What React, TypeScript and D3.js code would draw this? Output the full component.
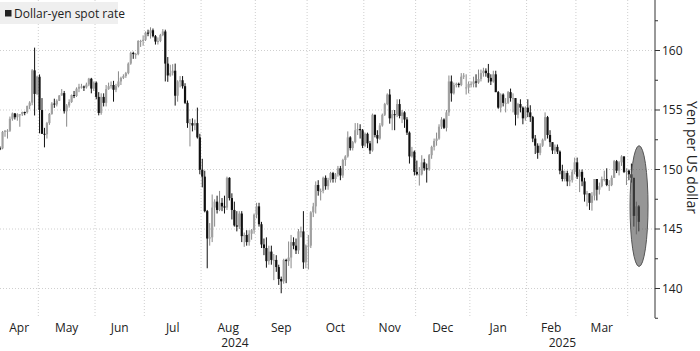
import React, { useEffect } from 'react';
import * as d3 from 'd3';

// ---------- data ----------
const startDate = '2024-04-09';
const endDate = '2025-04-07';

const opens = [
151.78,151.77,153.16,153.25,153.26,154.26,154.71,154.39,154.64,154.64,154.83,154.82,155.34,155.62,158.33,156.35,
157.80,155.00,153.00,152.96,153.90,154.67,155.54,155.47,155.78,156.22,156.42,154.90,155.38,155.67,156.26,156.18,156.79,156.95,156.97,156.90,157.14,157.63,156.80,
157.30,156.10,154.75,156.10,155.60,156.75,157.00,157.10,156.70,157.00,157.40,157.70,157.85,158.10,158.90,159.80,159.70,159.70,160.80,160.80,
160.90,161.50,161.45,161.70,161.20,160.75,160.80,161.30,161.60,158.90,157.90,158.10,158.30,156.20,157.40,157.50,157.00,155.60,153.90,153.90,153.70,153.90,152.70,
149.98,149.40,146.50,144.20,144.30,146.80,147.30,146.60,147.20,146.90,146.80,149.30,147.60,146.60,145.30,145.20,146.30,144.40,144.50,143.90,144.60,144.90,
146.20,146.90,145.40,143.70,143.40,142.30,143.10,142.40,142.40,141.80,140.80,140.60,142.40,142.30,142.60,143.90,143.60,143.20,144.80,144.80,142.20,
143.60,143.60,146.40,146.90,148.70,148.20,148.20,149.30,148.60,149.10,149.70,149.20,149.60,150.10,149.50,150.80,151.10,152.70,151.80,152.30,153.30,153.40,153.30,
152.00,153.00,152.20,151.60,154.60,152.90,152.60,153.70,154.60,155.50,156.30,154.30,154.65,154.60,155.50,154.50,154.80,154.20,153.10,151.10,151.50,
149.80,149.60,149.60,150.60,150.10,150.00,151.20,151.90,152.40,152.60,153.60,154.20,153.50,154.80,157.40,156.40,157.10,157.20,157.10,157.80,156.90,156.90,
157.20,157.20,157.40,157.30,157.60,158.10,158.30,158.10,157.70,157.40,158.00,156.50,155.20,156.30,155.60,155.60,156.50,156.00,156.00,154.60,155.50,155.20,154.30,
155.20,154.80,154.40,152.60,152.00,151.40,152.00,152.50,154.40,152.90,152.30,151.60,151.90,151.50,149.90,149.20,149.70,149.00,149.10,149.80,
150.60,149.40,149.80,149.00,147.90,148.00,147.20,147.80,149.20,148.30,148.60,149.20,149.20,148.70,148.70,149.30,150.70,149.90,150.60,151.10,149.80,
149.90,149.60,149.30,146.10,146.90
];
const highs = [
151.94,153.24,153.32,153.39,154.45,154.79,154.75,154.73,154.66,154.86,154.87,155.37,155.74,158.44,160.24,157.88,
157.99,156.00,153.50,154.00,154.75,155.66,155.95,155.90,156.25,156.76,156.60,155.50,155.90,156.30,156.60,156.90,157.20,157.20,157.05,157.30,157.70,157.70,157.40,
157.40,156.50,156.40,156.40,157.10,157.30,157.40,157.45,157.20,158.25,157.80,158.00,158.20,159.00,159.90,159.90,159.80,160.87,160.90,161.27,
161.60,161.75,161.95,161.85,161.30,161.10,161.40,161.80,161.75,159.45,158.80,158.85,158.90,157.50,157.85,157.85,157.25,155.80,154.25,154.30,154.20,155.20,153.00,
150.90,149.90,146.60,145.50,147.90,147.50,147.80,148.20,147.60,147.80,149.40,149.35,148.00,147.30,146.50,146.50,146.50,144.70,144.90,144.90,145.00,146.30,
147.20,147.20,145.60,144.20,144.30,143.60,143.60,142.90,142.80,142.00,141.00,142.50,142.50,143.95,144.50,144.30,144.20,145.00,145.20,146.50,143.70,
144.50,146.50,147.20,149.00,149.10,148.40,149.40,149.50,149.30,149.80,149.80,149.70,150.30,150.30,150.90,151.20,153.20,152.80,152.40,153.90,153.90,153.80,153.40,
153.10,153.10,152.40,154.70,154.60,153.30,153.90,154.70,155.60,156.40,156.75,155.00,155.00,155.90,155.90,155.00,154.90,154.40,153.20,151.90,151.60,
150.75,150.20,151.20,150.90,150.50,151.30,152.00,152.60,153.10,153.80,154.40,154.30,155.00,157.90,157.90,157.30,157.30,157.30,158.10,158.10,158.00,157.40,
157.40,157.80,158.00,158.40,158.40,158.55,158.50,158.87,158.00,158.30,158.30,156.60,156.40,156.40,156.00,156.60,156.80,156.40,156.00,155.60,155.90,155.30,155.30,
155.90,155.40,154.50,152.90,152.20,152.20,152.60,154.80,154.50,153.30,152.30,152.10,152.10,151.60,150.40,149.90,149.90,149.50,150.00,151.00,
151.00,150.00,150.00,149.30,148.20,148.00,148.10,149.20,149.20,148.90,149.40,149.90,150.10,149.10,149.50,150.80,150.80,150.70,151.20,151.10,150.10,
150.00,150.50,149.30,147.30,147.00
];
const lows = [
151.63,151.70,152.75,152.60,153.16,154.10,154.20,154.10,153.59,154.50,154.56,154.70,155.07,155.40,154.54,156.25,
153.04,152.99,151.86,152.60,153.75,154.60,155.18,155.30,155.75,156.20,154.70,153.60,155.20,155.60,156.00,156.10,156.50,156.80,156.60,156.80,157.00,156.40,156.60,
155.90,154.55,154.60,155.30,155.30,156.70,156.80,155.70,156.50,156.90,157.10,157.60,157.70,158.00,158.80,159.30,159.30,159.60,160.30,160.40,
160.80,161.20,161.00,161.10,160.50,160.50,160.70,161.20,157.40,157.37,157.80,157.90,155.37,155.70,156.90,156.80,155.50,153.50,151.94,153.20,153.30,152.60,149.60,
148.50,146.40,141.70,143.60,143.90,145.20,146.30,146.50,146.50,146.30,146.60,147.40,145.80,145.20,144.80,145.00,143.90,143.50,143.60,143.60,144.10,144.60,
145.90,145.20,143.40,142.80,141.75,142.00,142.00,140.70,141.40,140.30,139.60,140.40,140.45,141.90,141.70,143.30,142.90,142.90,144.30,141.65,141.70,
141.60,143.40,146.00,146.30,147.80,147.40,148.00,148.30,148.30,148.90,148.90,148.90,149.40,149.10,149.30,150.30,151.00,151.60,151.60,152.20,152.90,152.60,151.80,
151.90,151.80,151.30,151.50,152.70,152.20,152.50,153.60,154.50,155.40,153.85,153.30,153.30,154.40,154.30,153.90,153.50,152.90,150.50,151.00,149.50,
149.50,148.65,149.50,149.90,148.90,149.90,150.90,151.60,152.00,152.50,153.40,153.40,153.20,154.50,155.70,156.30,156.90,156.90,157.00,157.60,156.30,156.40,
156.90,156.90,156.90,157.20,157.40,157.80,157.80,157.30,157.10,157.30,156.50,155.10,154.80,155.30,154.80,155.50,155.70,154.80,153.70,154.30,154.80,153.80,154.10,
154.40,154.00,152.30,151.30,150.90,151.20,151.90,152.40,152.60,151.90,151.30,151.30,151.30,149.60,149.00,149.00,148.60,148.60,148.90,149.60,
149.20,148.10,148.60,147.30,146.90,146.60,146.54,147.40,147.40,147.90,148.50,149.00,148.60,148.20,148.60,149.30,149.70,149.50,150.30,149.70,148.70,
149.10,148.90,145.20,144.55,144.80
];
const closes = [
151.77,153.16,153.25,153.26,154.26,154.71,154.39,154.64,154.64,154.83,154.82,155.34,155.62,158.33,156.35,157.80,
155.00,153.00,152.96,153.90,154.67,155.54,155.47,155.78,156.22,156.42,154.90,155.38,155.67,156.26,156.18,156.79,156.95,156.97,156.90,157.14,157.63,156.80,157.30,
156.10,154.75,156.10,155.60,156.75,157.00,157.10,156.70,157.00,157.40,157.70,157.85,158.10,158.90,159.80,159.70,159.70,160.80,160.80,160.90,
161.50,161.45,161.70,161.20,160.75,160.80,161.30,161.60,158.90,157.90,158.10,158.30,156.20,157.40,157.50,157.00,155.60,153.90,153.90,153.70,153.90,152.70,149.98,
149.40,146.50,144.20,144.30,146.80,147.30,146.60,147.20,146.90,146.80,149.30,147.60,146.60,145.30,145.20,146.30,144.40,144.50,143.90,144.60,144.90,146.20,
146.90,145.40,143.70,143.40,142.30,143.10,142.40,142.40,141.80,140.80,140.60,142.40,142.30,142.60,143.90,143.60,143.20,144.80,144.80,142.20,143.60,
143.60,146.40,146.90,148.70,148.20,148.20,149.30,148.60,149.10,149.70,149.20,149.60,150.10,149.50,150.80,151.10,152.70,151.80,152.30,153.30,153.40,153.30,152.00,
153.00,152.20,151.60,154.60,152.90,152.60,153.70,154.60,155.50,156.30,154.30,154.65,154.60,155.50,154.50,154.80,154.20,153.10,151.10,151.50,149.80,
149.60,149.60,150.60,150.10,150.00,151.20,151.90,152.40,152.60,153.60,154.20,153.50,154.80,157.40,156.40,157.10,157.20,157.10,157.80,157.90,156.90,157.20,
157.20,157.40,157.30,157.60,158.10,158.30,158.10,157.70,157.40,158.00,156.50,155.20,156.30,155.60,155.60,156.50,156.00,156.00,154.60,155.50,155.20,154.30,155.20,
154.80,154.40,152.60,152.00,151.40,152.00,152.50,154.40,152.90,152.30,151.60,151.90,151.50,149.90,149.20,149.70,149.00,149.10,149.80,150.60,
149.40,149.80,149.00,147.90,148.00,147.20,147.80,149.20,148.30,148.60,149.20,149.20,148.70,148.70,149.30,150.70,149.90,150.60,151.10,149.80,149.90,
149.60,149.30,146.10,146.90,145.60
];

const yMajorTicks = [140, 145, 150, 155, 160];
const yMinorTicks = [137.5, 142.5, 147.5, 152.5, 157.5, 162.5];
const monthLabels = ['Apr', 'May', 'Jun', 'Jul', 'Aug', 'Sep', 'Oct', 'Nov', 'Dec', 'Jan', 'Feb', 'Mar'];
const gridMonthKeys = ['2024-05', '2024-06', '2024-07', '2024-08', '2024-09', '2024-10', '2024-11', '2024-12', '2025-01', '2025-02', '2025-03', '2025-04'];
const yearLabels = ['2024', '2025'];
const yearStartKeys = ['2024-04', '2025-01'];
const legendLabel = 'Dollar-yen spot rate';
const axisTitle = 'Yen per US dollar';
const highlightFromDate = '2025-04-01';

// ---------- layout ----------
const W = 700;
const H = 351;
const plotRight = 655;
const plotBottom = 318;
const FONT = "'Open Sans', 'Noto Sans', sans-serif";

export default function App() {
  useEffect(() => {
    document.body.style.margin = '0';
  }, []);

  const parse = d3.timeParse('%Y-%m-%d');
  const fmtMonth = d3.timeFormat('%Y-%m');
  const fmtDay = d3.timeFormat('%Y-%m-%d');
  const days = d3
    .timeDay.range(parse(startDate)!, d3.timeDay.offset(parse(endDate)!, 1))
    .filter((d) => d.getDay() !== 0 && d.getDay() !== 6);

  const firstIndexOfMonth = (key: string) => days.findIndex((d) => fmtMonth(d) === key);

  const iMay = firstIndexOfMonth('2024-05');
  const iApr25 = firstIndexOfMonth('2025-04');
  const x = d3.scaleLinear().domain([iMay - 0.5, iApr25 - 0.5]).range([38.3, 627.7]);
  const y = d3.scaleLinear().domain([140, 160]).range([288.5, 50.5]);

  const boundaries = gridMonthKeys.map((k) => x(firstIndexOfMonth(k) - 0.5));
  const edges = [0, ...boundaries];
  const monthPos = monthLabels.map((_, i) => (edges[i] + edges[i + 1]) / 2);

  const yearEdges = yearStartKeys.map((k) => {
    const idx = firstIndexOfMonth(k);
    return idx <= 0 ? 0 : x(idx - 0.5);
  });
  yearEdges.push(plotRight);
  const yearPos = yearLabels.map((_, i) => (yearEdges[i] + yearEdges[i + 1]) / 2);

  // highlight ellipse around the last days
  const hiIdx = days.findIndex((d) => fmtDay(d) === highlightFromDate);
  const hiLast = days.length - 1;
  const hiCx = x((hiIdx + hiLast) / 2 + 2.1);
  const hiTop = y(d3.max(highs.slice(hiIdx))! + 1.5);
  const hiBottom = y(d3.min(lows.slice(hiIdx))! - 2.7);

  const bodyW = 2.2;

  return (
    <svg
      width={W}
      height={H}
      viewBox={`0 0 ${W} ${H}`}
      style={{ position: 'absolute', left: 0, top: 0, background: '#fff', fontFamily: FONT }}
    >
      <defs>
        <clipPath id="plotClip">
          <rect x={0} y={0} width={plotRight} height={plotBottom} />
        </clipPath>
      </defs>
      <rect x={0} y={0} width={W} height={H} fill="#fff" />

      {/* horizontal grid */}
      {yMajorTicks.map((v) => (
        <line
          key={'hg' + v}
          x1={0}
          x2={plotRight}
          y1={y(v)}
          y2={y(v)}
          stroke="#cfcfcf"
          strokeWidth={1}
          strokeDasharray="1,2"
        />
      ))}
      {/* vertical grid */}
      {boundaries.map((bx, i) => (
        <line
          key={'vg' + i}
          x1={bx}
          x2={bx}
          y1={0}
          y2={plotBottom}
          stroke="#cfcfcf"
          strokeWidth={1}
          strokeDasharray="1,2"
        />
      ))}

      {/* candles */}
      <g clipPath="url(#plotClip)">
        {days.map((d, i) => {
          const o = opens[i];
          const c = closes[i];
          const up = c >= o;
          const cx = x(i);
          const top = y(Math.max(o, c));
          const bot = y(Math.min(o, c));
          const wick = up ? '#888' : '#111';
          return (
            <g key={i}>
              <line x1={cx} x2={cx} y1={y(highs[i])} y2={y(lows[i])} stroke={wick} strokeWidth={1} />
              <rect
                x={cx - bodyW / 2}
                y={top}
                width={bodyW}
                height={Math.max(1, bot - top)}
                fill={up ? '#a0a0a0' : '#111'}
              />
            </g>
          );
        })}
      </g>

      {/* highlight ellipse */}
      <ellipse
        cx={hiCx}
        cy={(hiTop + hiBottom) / 2}
        rx={9}
        ry={(hiBottom - hiTop) / 2}
        fill="rgba(80,80,80,0.6)"
        stroke="#555"
        strokeWidth={1}
      />

      {/* y axis */}
      <line x1={plotRight} x2={plotRight} y1={0} y2={plotBottom} stroke="#333" strokeWidth={1} />
      {yMinorTicks.map((v) => (
        <line key={'mt' + v} x1={plotRight} x2={plotRight + 3} y1={y(v)} y2={y(v)} stroke="#333" strokeWidth={1} />
      ))}
      {yMajorTicks.map((v) => (
        <g key={'yt' + v}>
          <line x1={plotRight} x2={plotRight + 5} y1={y(v)} y2={y(v)} stroke="#333" strokeWidth={1} />
          <text x={plotRight + 7} y={y(v)} dy="0.35em" fontSize={12} fill="#222">
            {v}
          </text>
        </g>
      ))}
      <text
        transform={`translate(686.5, ${(y(155) + y(145)) / 2 - 12}) rotate(90)`}
        textAnchor="middle"
        fontSize={14}
        fill="#222"
      >
        {axisTitle}
      </text>

      {/* x labels */}
      {monthLabels.map((m, i) => (
        <text key={'ml' + i} x={monthPos[i]} y={332} textAnchor="middle" fontSize={12} fill="#222">
          {m}
        </text>
      ))}
      {yearLabels.map((yl, i) => (
        <text key={'yl' + i} x={yearPos[i]} y={347} textAnchor="middle" fontSize={12} fill="#222">
          {yl}
        </text>
      ))}

      {/* legend */}
      <rect x={0} y={2} width={118} height={22} fill="#efefef" />
      <rect x={5} y={10} width={6.5} height={6.5} fill="#222" />
      <text x={14} y={17.5} fontSize={12} fill="#222">
        {legendLabel}
      </text>
    </svg>
  );
}
